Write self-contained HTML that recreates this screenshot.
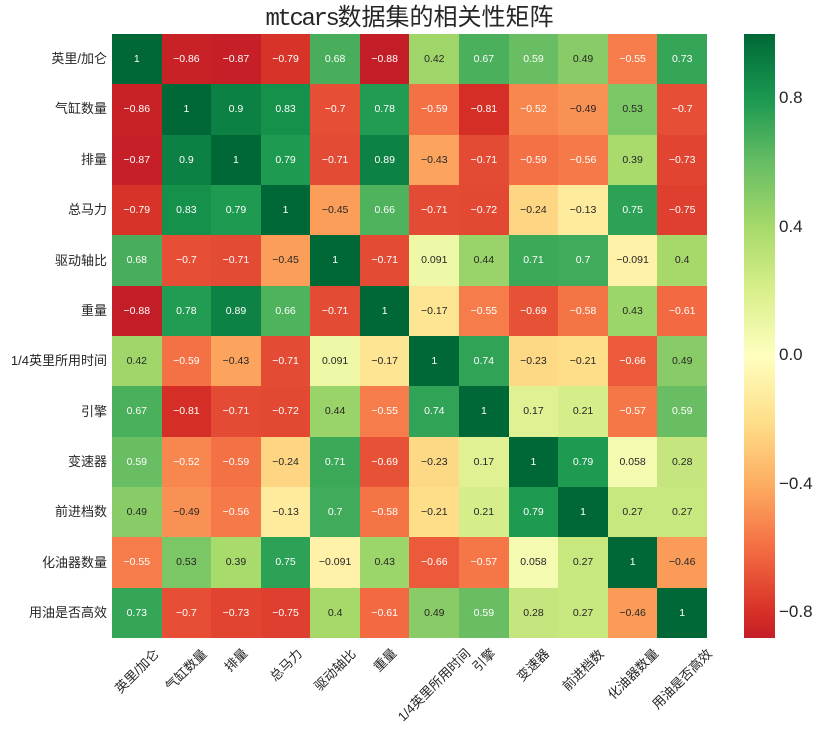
<!DOCTYPE html>
<html><head><meta charset="utf-8">
<style>
html,body{margin:0;padding:0;background:#fff;}
body{width:822px;height:729px;position:relative;overflow:hidden;font-family:"Liberation Sans","WenQuanYi Zen Hei","Noto Sans CJK SC",sans-serif;color:#262626;}
.title{position:absolute;left:0;width:819px;top:3px;text-align:center;font-size:24px;line-height:30px;white-space:nowrap;}
.title .m{font-family:"Liberation Mono",monospace;letter-spacing:-2.4px;}
.title .c{font-family:"Liberation Sans","WenQuanYi Zen Hei","Noto Sans CJK SC",sans-serif;}
#hm{position:absolute;left:112px;top:34px;width:595px;height:604px;display:grid;grid-template-columns:repeat(12,1fr);grid-template-rows:repeat(12,1fr);}
#hm div{display:flex;align-items:center;justify-content:center;font-size:10.5px;color:#262626;}
#hm div.w{color:#fff;}
.rl{position:absolute;right:715px;font-size:13px;line-height:16px;white-space:nowrap;text-align:right;}
.xl{position:absolute;font-size:13px;line-height:15px;white-space:nowrap;transform:translate(-50%,-50%) rotate(-45deg);}
#cb{position:absolute;left:744px;top:34px;width:31px;height:604px;background:linear-gradient(to top, rgb(195,29,39) 0%, rgb(215,48,39) 4.26%, rgb(244,109,67) 14.89%, rgb(253,174,97) 25.53%, rgb(254,224,139) 36.17%, rgb(255,255,191) 46.81%, rgb(217,239,139) 57.45%, rgb(166,217,106) 68.09%, rgb(102,189,99) 78.72%, rgb(26,152,80) 89.36%, rgb(0,104,55) 100%);}
.ct{position:absolute;left:779px;font-size:17px;line-height:20px;white-space:nowrap;}
</style></head>
<body>
<div class="title"><span class="m">mtcars</span><span class="c">数据集的相关性矩阵</span></div>

<div id="hm">
<!-- row 1 -->
<div class="w" style="background:rgb(0,104,55)">1</div>
<div class="w" style="background:rgb(200,34,39)">−0.86</div>
<div class="w" style="background:rgb(198,31,39)">−0.87</div>
<div class="w" style="background:rgb(216,51,40)">−0.79</div>
<div class="w" style="background:rgb(72,174,91)">0.68</div>
<div class="w" style="background:rgb(195,29,39)">−0.88</div>
<div style="background:rgb(160,214,105)">0.42</div>
<div class="w" style="background:rgb(75,176,92)">0.67</div>
<div class="w" style="background:rgb(105,190,99)">0.59</div>
<div style="background:rgb(137,204,103)">0.49</div>
<div class="w" style="background:rgb(246,125,75)">−0.55</div>
<div class="w" style="background:rgb(53,165,87)">0.73</div>
<!-- row 2 -->
<div class="w" style="background:rgb(200,34,39)">−0.86</div>
<div class="w" style="background:rgb(0,104,55)">1</div>
<div class="w" style="background:rgb(13,128,68)">0.9</div>
<div class="w" style="background:rgb(22,145,76)">0.83</div>
<div class="w" style="background:rgb(230,79,53)">−0.7</div>
<div class="w" style="background:rgb(34,156,82)">0.78</div>
<div class="w" style="background:rgb(244,112,69)">−0.59</div>
<div class="w" style="background:rgb(213,46,39)">−0.81</div>
<div class="w" style="background:rgb(248,135,79)">−0.52</div>
<div style="background:rgb(249,145,84)">−0.49</div>
<div style="background:rgb(124,199,101)">0.53</div>
<div class="w" style="background:rgb(230,79,53)">−0.7</div>
<!-- row 3 -->
<div class="w" style="background:rgb(198,31,39)">−0.87</div>
<div class="w" style="background:rgb(13,128,68)">0.9</div>
<div class="w" style="background:rgb(0,104,55)">1</div>
<div class="w" style="background:rgb(30,154,81)">0.79</div>
<div class="w" style="background:rgb(228,75,52)">−0.71</div>
<div class="w" style="background:rgb(14,130,69)">0.89</div>
<div style="background:rgb(252,164,93)">−0.43</div>
<div class="w" style="background:rgb(228,75,52)">−0.71</div>
<div class="w" style="background:rgb(244,112,69)">−0.59</div>
<div class="w" style="background:rgb(246,122,73)">−0.56</div>
<div style="background:rgb(169,218,108)">0.39</div>
<div class="w" style="background:rgb(225,69,49)">−0.73</div>
<!-- row 4 -->
<div class="w" style="background:rgb(216,51,40)">−0.79</div>
<div class="w" style="background:rgb(22,145,76)">0.83</div>
<div class="w" style="background:rgb(30,154,81)">0.79</div>
<div class="w" style="background:rgb(0,104,55)">1</div>
<div style="background:rgb(251,158,90)">−0.45</div>
<div class="w" style="background:rgb(79,178,93)">0.66</div>
<div class="w" style="background:rgb(228,75,52)">−0.71</div>
<div class="w" style="background:rgb(227,72,50)">−0.72</div>
<div style="background:rgb(254,214,131)">−0.24</div>
<div style="background:rgb(254,235,157)">−0.13</div>
<div class="w" style="background:rgb(45,161,85)">0.75</div>
<div class="w" style="background:rgb(222,63,46)">−0.75</div>
<!-- row 5 -->
<div class="w" style="background:rgb(72,174,91)">0.68</div>
<div class="w" style="background:rgb(230,79,53)">−0.7</div>
<div class="w" style="background:rgb(228,75,52)">−0.71</div>
<div style="background:rgb(251,158,90)">−0.45</div>
<div class="w" style="background:rgb(0,104,55)">1</div>
<div class="w" style="background:rgb(228,75,52)">−0.71</div>
<div style="background:rgb(238,248,167)">0.091</div>
<div style="background:rgb(153,211,105)">0.44</div>
<div class="w" style="background:rgb(60,169,89)">0.71</div>
<div class="w" style="background:rgb(64,171,90)">0.7</div>
<div style="background:rgb(255,241,167)">−0.091</div>
<div style="background:rgb(166,217,106)">0.4</div>
<!-- row 6 -->
<div class="w" style="background:rgb(195,29,39)">−0.88</div>
<div class="w" style="background:rgb(34,156,82)">0.78</div>
<div class="w" style="background:rgb(14,130,69)">0.89</div>
<div class="w" style="background:rgb(79,178,93)">0.66</div>
<div class="w" style="background:rgb(228,75,52)">−0.71</div>
<div class="w" style="background:rgb(0,104,55)">1</div>
<div style="background:rgb(254,229,147)">−0.17</div>
<div class="w" style="background:rgb(246,125,75)">−0.55</div>
<div class="w" style="background:rgb(231,82,54)">−0.69</div>
<div class="w" style="background:rgb(245,116,70)">−0.58</div>
<div style="background:rgb(156,213,105)">0.43</div>
<div class="w" style="background:rgb(243,106,66)">−0.61</div>
<!-- row 7 -->
<div style="background:rgb(160,214,105)">0.42</div>
<div class="w" style="background:rgb(244,112,69)">−0.59</div>
<div style="background:rgb(252,164,93)">−0.43</div>
<div class="w" style="background:rgb(228,75,52)">−0.71</div>
<div style="background:rgb(238,248,167)">0.091</div>
<div style="background:rgb(254,229,147)">−0.17</div>
<div class="w" style="background:rgb(0,104,55)">1</div>
<div class="w" style="background:rgb(49,163,86)">0.74</div>
<div style="background:rgb(254,217,133)">−0.23</div>
<div style="background:rgb(254,222,137)">−0.21</div>
<div class="w" style="background:rgb(235,91,59)">−0.66</div>
<div style="background:rgb(137,204,103)">0.49</div>
<!-- row 8 -->
<div class="w" style="background:rgb(75,176,92)">0.67</div>
<div class="w" style="background:rgb(213,46,39)">−0.81</div>
<div class="w" style="background:rgb(228,75,52)">−0.71</div>
<div class="w" style="background:rgb(227,72,50)">−0.72</div>
<div style="background:rgb(153,211,105)">0.44</div>
<div class="w" style="background:rgb(246,125,75)">−0.55</div>
<div class="w" style="background:rgb(49,163,86)">0.74</div>
<div class="w" style="background:rgb(0,104,55)">1</div>
<div style="background:rgb(223,241,147)">0.17</div>
<div style="background:rgb(214,238,137)">0.21</div>
<div class="w" style="background:rgb(245,119,72)">−0.57</div>
<div class="w" style="background:rgb(105,190,99)">0.59</div>
<!-- row 9 -->
<div class="w" style="background:rgb(105,190,99)">0.59</div>
<div class="w" style="background:rgb(248,135,79)">−0.52</div>
<div class="w" style="background:rgb(244,112,69)">−0.59</div>
<div style="background:rgb(254,214,131)">−0.24</div>
<div class="w" style="background:rgb(60,169,89)">0.71</div>
<div class="w" style="background:rgb(231,82,54)">−0.69</div>
<div style="background:rgb(254,217,133)">−0.23</div>
<div style="background:rgb(223,241,147)">0.17</div>
<div class="w" style="background:rgb(0,104,55)">1</div>
<div class="w" style="background:rgb(30,154,81)">0.79</div>
<div style="background:rgb(244,250,176)">0.058</div>
<div style="background:rgb(197,230,126)">0.28</div>
<!-- row 10 -->
<div style="background:rgb(137,204,103)">0.49</div>
<div style="background:rgb(249,145,84)">−0.49</div>
<div class="w" style="background:rgb(246,122,73)">−0.56</div>
<div style="background:rgb(254,235,157)">−0.13</div>
<div class="w" style="background:rgb(64,171,90)">0.7</div>
<div class="w" style="background:rgb(245,116,70)">−0.58</div>
<div style="background:rgb(254,222,137)">−0.21</div>
<div style="background:rgb(214,238,137)">0.21</div>
<div class="w" style="background:rgb(30,154,81)">0.79</div>
<div class="w" style="background:rgb(0,104,55)">1</div>
<div style="background:rgb(199,231,127)">0.27</div>
<div style="background:rgb(199,231,127)">0.27</div>
<!-- row 11 -->
<div class="w" style="background:rgb(246,125,75)">−0.55</div>
<div style="background:rgb(124,199,101)">0.53</div>
<div style="background:rgb(169,218,108)">0.39</div>
<div class="w" style="background:rgb(45,161,85)">0.75</div>
<div style="background:rgb(255,241,167)">−0.091</div>
<div style="background:rgb(156,213,105)">0.43</div>
<div class="w" style="background:rgb(235,91,59)">−0.66</div>
<div class="w" style="background:rgb(245,119,72)">−0.57</div>
<div style="background:rgb(244,250,176)">0.058</div>
<div style="background:rgb(199,231,127)">0.27</div>
<div class="w" style="background:rgb(0,104,55)">1</div>
<div style="background:rgb(250,155,88)">−0.46</div>
<!-- row 12 -->
<div class="w" style="background:rgb(53,165,87)">0.73</div>
<div class="w" style="background:rgb(230,79,53)">−0.7</div>
<div class="w" style="background:rgb(225,69,49)">−0.73</div>
<div class="w" style="background:rgb(222,63,46)">−0.75</div>
<div style="background:rgb(166,217,106)">0.4</div>
<div class="w" style="background:rgb(243,106,66)">−0.61</div>
<div style="background:rgb(137,204,103)">0.49</div>
<div class="w" style="background:rgb(105,190,99)">0.59</div>
<div style="background:rgb(197,230,126)">0.28</div>
<div style="background:rgb(199,231,127)">0.27</div>
<div style="background:rgb(250,155,88)">−0.46</div>
<div class="w" style="background:rgb(0,104,55)">1</div>
</div>

<!-- row labels (centers at 34 + (i+0.5)*50.33) -->
<div class="rl" style="top:51px">英里/加仑</div>
<div class="rl" style="top:101px">气缸数量</div>
<div class="rl" style="top:152px">排量</div>
<div class="rl" style="top:202px">总马力</div>
<div class="rl" style="top:253px">驱动轴比</div>
<div class="rl" style="top:303px">重量</div>
<div class="rl" style="top:353px">1/4英里所用时间</div>
<div class="rl" style="top:404px">引擎</div>
<div class="rl" style="top:454px">变速器</div>
<div class="rl" style="top:504px">前进档数</div>
<div class="rl" style="top:555px">化油器数量</div>
<div class="rl" style="top:605px">用油是否高效</div>

<!-- x labels -->
<div class="xl" style="left:137px;top:671px">英里/加仑</div>
<div class="xl" style="left:186px;top:670px">气缸数量</div>
<div class="xl" style="left:236px;top:660px">排量</div>
<div class="xl" style="left:286px;top:665px">总马力</div>
<div class="xl" style="left:335px;top:670px">驱动轴比</div>
<div class="xl" style="left:385px;top:660px">重量</div>
<div class="xl" style="left:434px;top:685px">1/4英里所用时间</div>
<div class="xl" style="left:484px;top:660px">引擎</div>
<div class="xl" style="left:533px;top:665px">变速器</div>
<div class="xl" style="left:583px;top:670px">前进档数</div>
<div class="xl" style="left:633px;top:674px">化油器数量</div>
<div class="xl" style="left:682px;top:679px">用油是否高效</div>

<!-- colorbar -->
<div id="cb"></div>
<div class="ct" style="top:88px">0.8</div>
<div class="ct" style="top:217px">0.4</div>
<div class="ct" style="top:345px">0.0</div>
<div class="ct" style="top:474px">−0.4</div>
<div class="ct" style="top:602px">−0.8</div>
</body></html>
